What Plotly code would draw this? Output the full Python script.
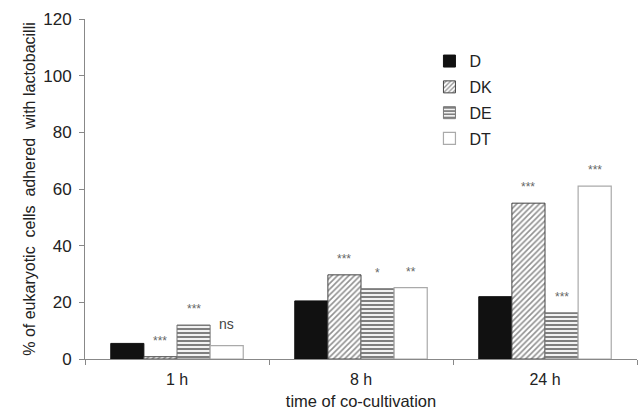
import plotly.graph_objects as go

categories = ["1 h", "8 h", "24 h"]
series_names = ["D", "DK", "DE", "DT"]
D = [5.5, 20.5, 22.0]
DK = [0.8, 29.7, 55.0]
DE = [12.0, 24.8, 16.3]
DT = [4.7, 25.2, 61.0]
sig_DK = ["***", "***", "***"]
sig_DE = ["***", "*", "***"]
sig_DT = ["ns", "**", "***"]

y_title = "% of eukaryotic  cells  adhered  with lactobacilli"
x_title = "time of co-cultivation"

FONT = "Liberation Sans, Arial, sans-serif"

fig = go.Figure()
fig.add_trace(go.Bar(name="D", x=categories, y=D, legendgroup="D",
                     marker=dict(color="#111111", line=dict(color="#111111", width=1))))
fig.add_trace(go.Bar(name="DK", x=categories, y=DK, legendgroup="DK",
                     marker=dict(color="white", line=dict(color="#444444", width=1),
                                 pattern=dict(shape="/", size=4, solidity=0.4,
                                              fgcolor="#222222", bgcolor="white"))))
fig.add_trace(go.Bar(name="DE", x=categories, y=DE, legendgroup="DE",
                     marker=dict(color="white", line=dict(color="#777777", width=1),
                                 pattern=dict(shape="-", size=4, solidity=0.55,
                                              fgcolor="#000000", bgcolor="white"))))
fig.add_trace(go.Bar(name="DT", x=categories, y=DT, legendgroup="DT",
                     marker=dict(color="white", line=dict(color="#aaaaaa", width=1.2))))

bargap = 0.28
n = len(series_names)
bw = (1 - bargap) / n
offsets = [(-(n - 1) / 2 + k) * bw for k in range(n)]

annotations = []
for k, (vals, sigs) in enumerate([(DK, sig_DK), (DE, sig_DE), (DT, sig_DT)], start=1):
    for i, (v, s) in enumerate(zip(vals, sigs)):
        is_ns = s == "ns"
        annotations.append(dict(
            x=i + offsets[k], y=v, xref="x", yref="y", text=s, showarrow=False,
            yanchor="bottom", yshift=(12 if is_ns else 7),
            font=dict(family=FONT, size=(14 if is_ns else 12),
                      color=("#444444" if is_ns else "#666666"))))

fig.update_layout(
    width=641, height=411,
    margin=dict(l=85, r=4, t=19, b=52),
    paper_bgcolor="white", plot_bgcolor="white",
    barmode="group", bargap=bargap, bargroupgap=0,
    font=dict(family=FONT, color="#222222"),
    showlegend=True,
    legend=dict(x=0.624, y=0.926, xanchor="left", yanchor="top",
                bgcolor="rgba(0,0,0,0)", font=dict(size=16, color="#222222"),
                tracegroupgap=2, itemwidth=30),
    annotations=annotations,
)
fig.update_xaxes(
    type="category", tickson="boundaries", ticks="outside", ticklen=5,
    tickcolor="#888888", showline=True, linecolor="#888888", linewidth=1,
    tickfont=dict(size=16, color="#222222"), automargin=False,
    ticklabelstandoff=6,
    title=dict(text=x_title, font=dict(size=16.5, color="#222222"), standoff=8),
    showgrid=False, zeroline=False,
)
fig.update_yaxes(
    range=[0, 120], tickvals=[0, 20, 40, 60, 80, 100, 120], ticks="outside",
    ticklen=5, tickcolor="#888888", showline=True, linecolor="#888888", linewidth=1,
    tickfont=dict(size=17, color="#222222"), automargin=False,
    ticklabelstandoff=4,
    title=dict(text=y_title, font=dict(size=16, color="#222222"), standoff=3),
    showgrid=False, zeroline=False,
)

fig.write_html("out.html",
               config={"displayModeBar": False},
               post_script="document.body.style.margin='0';document.body.style.overflow='hidden';")
